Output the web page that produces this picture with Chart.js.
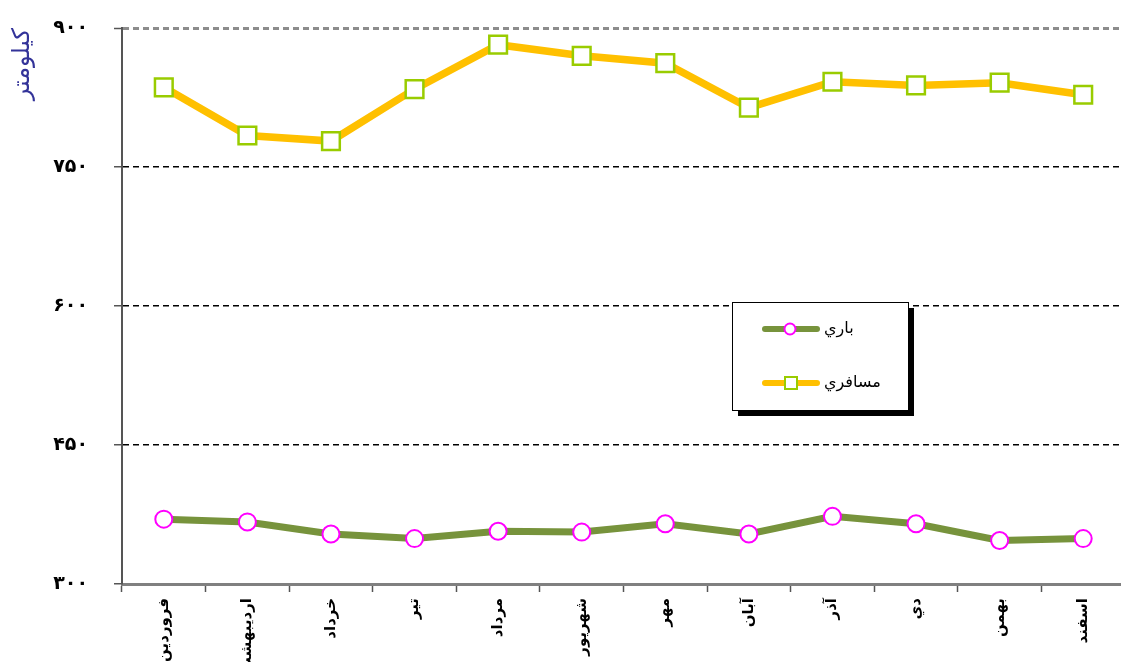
<!DOCTYPE html>
<html>
<head>
<meta charset="utf-8">
<script src="https://cdn.jsdelivr.net/npm/chart.js@4"></script>
<style>
  body { margin: 0; overflow: hidden; background: #fff; }
  #wrap { position: relative; width: 1140px; height: 662px; }
</style>
</head>
<body>
<div id="wrap"><canvas id="grafico"></canvas></div>
<script>
// ماه ها و مقادیر
const months = ['فروردين', 'ارديبهشت', 'خرداد', 'تير', 'مرداد', 'شهريور', 'مهر', 'آبان', 'آذر', 'دي', 'بهمن', 'اسفند'];
const bari = [370, 367, 354, 349, 357, 356, 365, 354, 373, 365, 347, 349];
const mosaferi = [836, 784, 778, 834, 882, 870, 862, 814, 842, 838, 841, 828];
const yTickValues = [300, 450, 600, 750, 900];
const yTickLabels = ['۳۰۰', '۴۵۰', '۶۰۰', '۷۵۰', '۹۰۰'];
const yTitle = 'کیلومتر';

const FONT = "'DejaVu Sans', sans-serif";

// legend box drawn inside the plot
const boxLegend = {
    id: 'boxLegend',
    afterDraw(chart) {
        const ctx = chart.ctx;
        const x = 732, y = 302, w = 176, h = 108;
        ctx.save();
        ctx.fillStyle = '#000';
        ctx.fillRect(x + 6, y + 6, w, h);
        ctx.fillStyle = '#fff';
        ctx.fillRect(x, y, w, h);
        ctx.strokeStyle = '#000';
        ctx.lineWidth = 1;
        ctx.strokeRect(x + 0.5, y + 0.5, w, h);
        const rows = [329, 383];
        chart.data.datasets.forEach((ds, i) => {
            const ry = rows[i];
            ctx.lineCap = 'round';
            ctx.lineWidth = 6;
            ctx.strokeStyle = ds.borderColor;
            ctx.beginPath();
            ctx.moveTo(765, ry);
            ctx.lineTo(817, ry);
            ctx.stroke();
            ctx.fillStyle = '#fff';
            ctx.strokeStyle = ds.pointBorderColor;
            ctx.lineWidth = 2;
            ctx.beginPath();
            if (ds.pointStyle === 'rect') {
                ctx.rect(785, ry - 6, 12, 12);
            } else {
                ctx.arc(790, ry, 5.5, 0, Math.PI * 2);
            }
            ctx.fill();
            ctx.stroke();
            ctx.fillStyle = '#000';
            ctx.font = '16px ' + FONT;
            ctx.textAlign = 'left';
            ctx.textBaseline = 'middle';
            ctx.fillText(ds.label, 824, ry);
        });
        ctx.restore();
    }
};

const ctx = document.getElementById('grafico').getContext('2d');
new Chart(ctx, {
    type: 'line',
    data: {
        labels: months,
        datasets: [{
            label: 'باري',
            data: bari,
            borderColor: '#77933C',
            borderWidth: 7,
            pointStyle: 'circle',
            pointRadius: 8.5,
            pointBorderWidth: 2,
            pointBorderColor: '#FF00FF',
            pointBackgroundColor: '#fff',
            tension: 0
        }, {
            label: 'مسافري',
            data: mosaferi,
            borderColor: '#FFC000',
            borderWidth: 7.5,
            pointStyle: 'rect',
            pointRadius: 12.5,
            pointBorderWidth: 2.5,
            pointBorderColor: '#99CC00',
            pointBackgroundColor: '#fff',
            tension: 0
        }]
    },
    options: {
        responsive: true,
        maintainAspectRatio: false,
        animation: false,
        layout: { padding: { top: 28, right: 10, left: 0, bottom: 0 } },
        plugins: {
            legend: { display: false },
            tooltip: { enabled: false }
        },
        scales: {
            x: {
                offset: true,
                grid: {
                    offset: true,
                    drawOnChartArea: false,
                    tickLength: 8,
                    tickColor: '#555',
                    tickWidth: 1.5
                },
                border: { color: '#808080', width: 3 },
                ticks: {
                    color: '#000',
                    font: { family: FONT, size: 15, weight: 'bold' },
                    minRotation: 90,
                    maxRotation: 90,
                    padding: 6,
                    autoSkip: false
                },
                afterFit(scale) {
                    scale.height = 78;
                    scale.paddingLeft = 0;
                    scale.paddingRight = 0;
                }
            },
            y: {
                min: 300,
                max: 900,
                afterBuildTicks(scale) {
                    scale.ticks = yTickValues.map(v => ({ value: v }));
                },
                grid: {
                    tickLength: 8,
                    tickColor: '#555',
                    tickWidth: 1.5,
                    color: c => c.tick.value === 300 ? 'rgba(0,0,0,0)' : (c.tick.value === 900 ? '#8c8c8c' : '#000'),
                    lineWidth: c => c.tick.value === 900 ? 3 : 1.5
                },
                border: { color: '#555', width: 2, dash: [6, 4] },
                ticks: {
                    color: '#000',
                    padding: 26,
                    font: { family: FONT, size: 19, weight: 'bold' },
                    callback: v => yTickLabels[yTickValues.indexOf(v)]
                },
                title: {
                    display: true,
                    text: yTitle,
                    align: 'end',
                    color: '#333399',
                    font: { family: FONT, size: 24 },
                    padding: { top: 8, bottom: 0 }
                },
                afterFit(scale) {
                    scale.width = 122;
                    scale.paddingTop = 0;
                    scale.paddingBottom = 0;
                }
            }
        }
    },
    plugins: [boxLegend]
});
</script>
</body>
</html>
